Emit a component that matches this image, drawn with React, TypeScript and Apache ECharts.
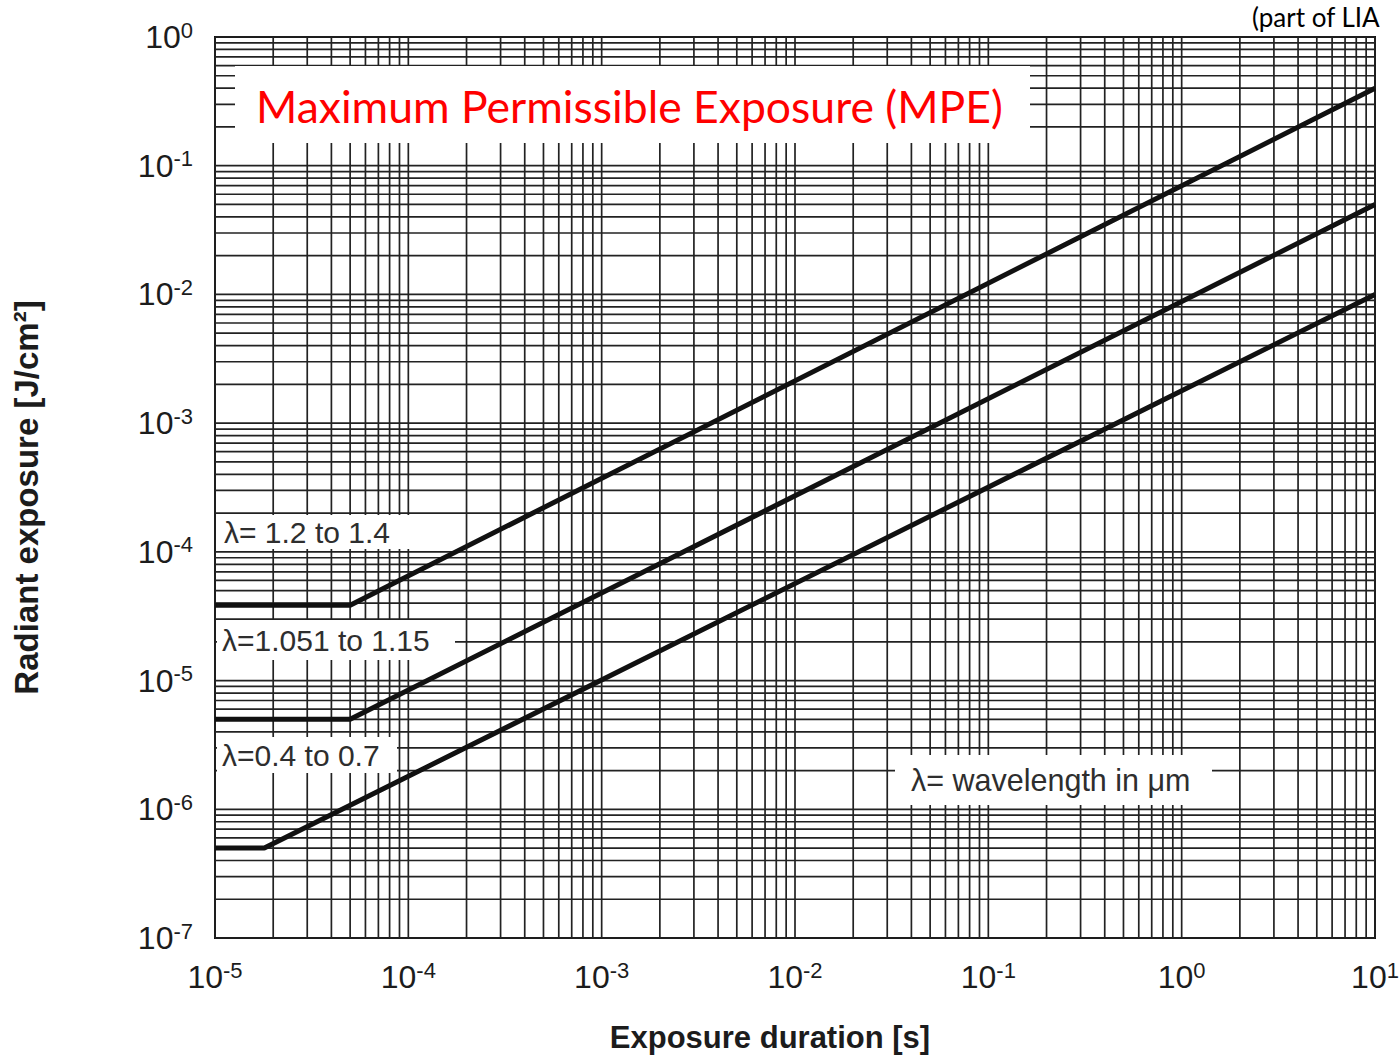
import React, { useEffect, useRef } from "react";
import * as echarts from "echarts";

// Axis decades (exponents of 10)
const xDecadeExponents = [-5, -4, -3, -2, -1, 0, 1];
const yDecadeExponents = [-7, -6, -5, -4, -3, -2, -1, 0];
const gridMultipliers = [1, 2, 3, 4, 5, 6, 7, 8, 9];

// Series (exposure duration [s] -> radiant exposure [J/cm²])
const seriesNames = ["λ= 1.2 to 1.4", "λ=1.051 to 1.15", "λ=0.4 to 0.7"];
const durationsA = [1e-5, 5e-5, 10];
const exposuresA = [3.85e-5, 3.85e-5, 0.4];
const durationsB = [1e-5, 5e-5, 10];
const exposuresB = [5e-6, 5e-6, 0.05];
const durationsC = [1e-5, 1.8e-5, 10];
const exposuresC = [5e-7, 5e-7, 0.01];

const xAxisName = "Exposure duration [s]";
const yAxisName = "Radiant exposure [J/cm²]";
const titleText = "Maximum Permissible Exposure (MPE)";
const cornerNote = "(part of LIA";
const legendNote = "λ= wavelength in μm";

const FONT = "'Liberation Sans', Arial, Helvetica, sans-serif";
const TITLE_FONT = "Lato, 'Open Sans', sans-serif";
const INK = "#1c1c1c";
const GRID_INK = "#222222";

function gridValues(exps: number[]): number[] {
  const out: number[] = [];
  for (let i = 0; i < exps.length - 1; i++) {
    for (const m of gridMultipliers) out.push(m * Math.pow(10, exps[i]));
  }
  out.push(Math.pow(10, exps[exps.length - 1]));
  return out;
}

const xMin = Math.pow(10, xDecadeExponents[0]);
const xMax = Math.pow(10, xDecadeExponents[xDecadeExponents.length - 1]);
const yMin = Math.pow(10, yDecadeExponents[0]);
const yMax = Math.pow(10, yDecadeExponents[yDecadeExponents.length - 1]);

const pairs = (xs: number[], ys: number[]) => xs.map((x, i) => [x, ys[i]]);

const powLabel = (v: number) => {
  const e = Math.round(Math.log10(v));
  return `{b|10}{s|${e}}`;
};

const richLabels = {
  b: { fontSize: 32, fontFamily: FONT, color: INK, lineHeight: 36 },
  s: { fontSize: 22, fontFamily: FONT, color: INK, verticalAlign: "top" },
};

function boxLabel(x: number, y: number, w: number, h: number, text: string, tx: number, size: number) {
  return {
    type: "group",
    z: 50,
    children: [
      { type: "rect", shape: { x, y, width: w, height: h }, style: { fill: "#ffffff" }, z: 50 },
      {
        type: "text",
        z: 51,
        style: {
          text,
          x: tx,
          y: y + h / 2,
          fill: "#2e2e2e",
          fontSize: size,
          fontFamily: FONT,
          textAlign: "left",
          align: "left",
          textVerticalAlign: "middle",
          verticalAlign: "middle",
        },
      },
    ],
  };
}

export default function App() {
  const ref = useRef<HTMLDivElement>(null);

  useEffect(() => {
    if (!ref.current) return;
    const chart = echarts.init(ref.current, undefined, { renderer: "svg" });

    const xGrid = gridValues(xDecadeExponents);
    const yGrid = gridValues(yDecadeExponents);

    const lineStyleMain = { color: "#111111", width: 5 };

    const option: any = {
      animation: false,
      backgroundColor: "#ffffff",
      grid: {
        left: 215,
        right: 25,
        top: 37,
        bottom: 119,
        outerBoundsMode: "none",
        containLabel: false,
        show: true,
        borderColor: "#111",
        borderWidth: 2,
        backgroundColor: "#fff",
      },
      xAxis: {
        type: "log",
        logBase: 10,
        min: xMin,
        max: xMax,
        splitNumber: 6,
        name: xAxisName,
        nameLocation: "middle",
        nameGap: 84,
        nameTextStyle: {
          fontSize: 31,
          fontWeight: "bold",
          fontFamily: FONT,
          color: INK,
          padding: [0, 50, 0, 0],
        },
        axisLine: { show: true, lineStyle: { color: "#111", width: 2 } },
        axisTick: { show: false },
        splitLine: { show: false },
        minorSplitLine: { show: false },
        axisLabel: {
          margin: 21,
          formatter: powLabel,
          rich: richLabels,
          showMinLabel: true,
          showMaxLabel: true,
        },
      },
      yAxis: {
        type: "log",
        logBase: 10,
        min: yMin,
        max: yMax,
        splitNumber: 7,
        name: yAxisName,
        nameLocation: "middle",
        nameGap: 172,
        nameTextStyle: {
          fontSize: 33,
          fontWeight: "bold",
          fontFamily: FONT,
          color: INK,
          padding: [0, 20, 0, 0],
        },
        axisLine: { show: true, lineStyle: { color: "#111", width: 2 } },
        axisTick: { show: false },
        splitLine: { show: false },
        axisLabel: {
          margin: 22,
          formatter: powLabel,
          rich: richLabels,
          showMinLabel: true,
          showMaxLabel: true,
        },
      },
      series: [
        {
          type: "custom",
          name: "vgrid",
          silent: true,
          z: 1,
          data: xGrid.map((v) => [v, yMin]),
          encode: { x: 0, y: 1 },
          renderItem: (_p: any, api: any) => {
            const x = api.value(0);
            const a = api.coord([x, yMin]);
            const b = api.coord([x, yMax]);
            return {
              type: "line",
              shape: { x1: a[0], y1: a[1], x2: b[0], y2: b[1] },
              style: { stroke: GRID_INK, lineWidth: 1.7 },
            };
          },
        },
        {
          type: "custom",
          name: "hgrid",
          silent: true,
          z: 1,
          data: yGrid.map((v) => [xMin, v]),
          encode: { x: 0, y: 1 },
          renderItem: (_p: any, api: any) => {
            const y = api.value(1);
            const a = api.coord([xMin, y]);
            const b = api.coord([xMax, y]);
            return {
              type: "line",
              shape: { x1: a[0], y1: a[1], x2: b[0], y2: b[1] },
              style: { stroke: GRID_INK, lineWidth: 1.7 },
            };
          },
        },
        {
          type: "line",
          name: seriesNames[0],
          z: 100,
          showSymbol: false,
          symbol: "none",
          data: pairs(durationsA, exposuresA),
          lineStyle: lineStyleMain,
        },
        {
          type: "line",
          name: seriesNames[1],
          z: 100,
          showSymbol: false,
          symbol: "none",
          data: pairs(durationsB, exposuresB),
          lineStyle: lineStyleMain,
        },
        {
          type: "line",
          name: seriesNames[2],
          z: 100,
          showSymbol: false,
          symbol: "none",
          data: pairs(durationsC, exposuresC),
          lineStyle: lineStyleMain,
        },
      ],
      graphic: [
        // Title box
        {
          type: "group",
          z: 60,
          children: [
            { type: "rect", z: 60, shape: { x: 235, y: 66, width: 795, height: 77 }, style: { fill: "#ffffff" } },
            {
              type: "text",
              z: 61,
              style: {
                text: titleText,
                x: 256,
                y: 105,
                fill: "#ff0000",
                fontSize: 44.5,
                fontFamily: TITLE_FONT,
                textAlign: "left",
                align: "left",
                textVerticalAlign: "middle",
                verticalAlign: "middle",
                shadowColor: "rgba(0,0,0,0.3)",
                shadowBlur: 3,
                shadowOffsetX: 2,
                shadowOffsetY: 2,
              },
            },
          ],
        },
        {
          type: "text",
          z: 60,
          style: {
            text: cornerNote,
            x: 1252,
            y: 17,
            fill: "#000",
            fontSize: 26,
            fontFamily: TITLE_FONT,
            textAlign: "left",
            align: "left",
            textVerticalAlign: "middle",
            verticalAlign: "middle",
          },
        },
        boxLabel(217, 515, 246, 34, seriesNames[0], 224, 30),
        boxLabel(217, 620, 238, 40, seriesNames[1], 222, 30),
        boxLabel(217, 737, 180, 36, seriesNames[2], 222, 30),
        boxLabel(895, 755, 317, 50, legendNote, 911, 30.5),
      ],
    };

    chart.setOption(option);
    return () => chart.dispose();
  }, []);

  return (
    <div
      ref={ref}
      style={{ position: "fixed", left: 0, top: 0, width: 1400, height: 1057, background: "#fff" }}
    />
  );
}
